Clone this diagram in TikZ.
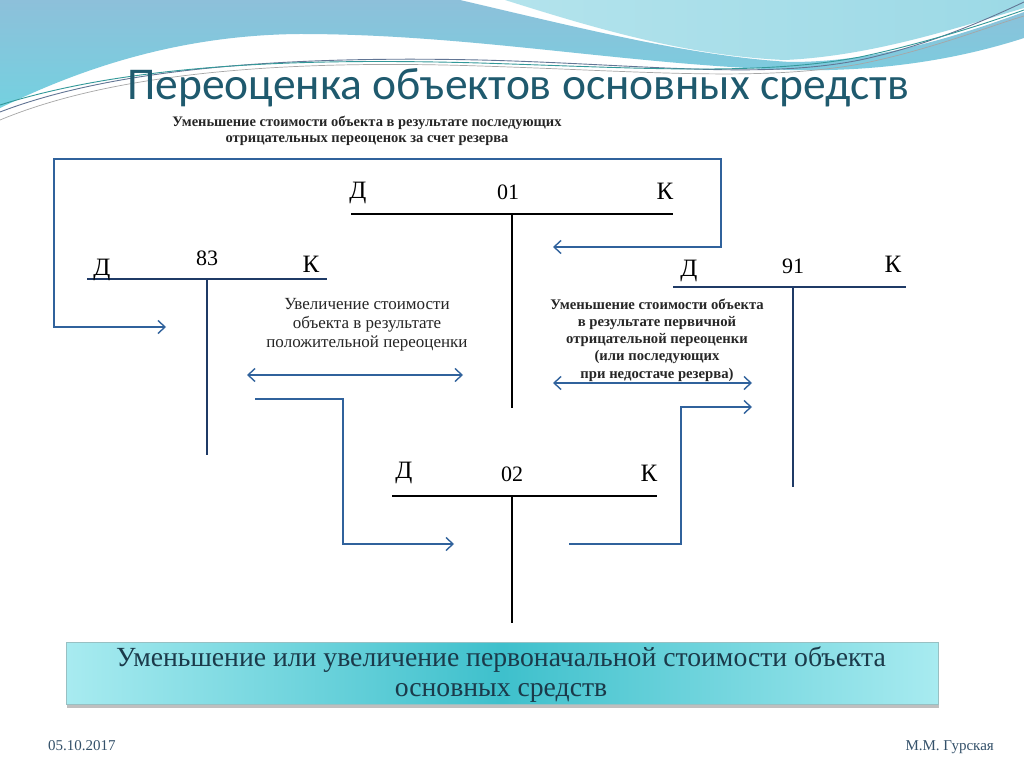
\documentclass[tikz,border=0pt]{standalone}
\usepackage{fontspec}
\setmainfont{Liberation Serif}
\newfontfamily\headfont{Carlito}
\usetikzlibrary{shapes}
\usetikzlibrary{arrows.meta}
\usetikzlibrary{shadows}

\definecolor{waveblue}{HTML}{8DC0DA}
\definecolor{wavecyan}{HTML}{74D1E0}
\definecolor{wavelight}{HTML}{B3E3EC}
\definecolor{wavepale}{HTML}{9CD9E6}
\definecolor{titleteal}{HTML}{1F5A6E}
\definecolor{linkblue}{HTML}{30629C}
\definecolor{accnavy}{HTML}{1F3A66}
\definecolor{boxedge}{HTML}{A8EBF0}
\definecolor{boxmid}{HTML}{3EC0CC}
\definecolor{boxtext}{HTML}{1B3A4A}
\definecolor{foot}{HTML}{34516A}

\begin{document}
\begin{tikzpicture}[x=1pt,y=-1pt,>={Straight Barb[length=7pt,width=13pt]}]
	\tikzstyle{every node}=[inner sep=0pt]
	\tikzstyle{conn}=[draw=linkblue,line width=1.4pt]
	\tikzstyle{blackacc}=[line width=2.8pt]
	\tikzstyle{navyacc}=[draw=accnavy,line width=2.2pt]
	\tikzstyle{side}=[anchor=base,font=\fontsize{25}{25}\selectfont]
	\tikzstyle{num}=[anchor=base,font=\fontsize{22}{22}\selectfont]
	\tikzstyle{note}=[align=center,text=black!85]
	
	\useasboundingbox (0,0) rectangle (1024,767);
	\fill[white] (0,0) rectangle (1024,767);
	
	% waves on top
	\shade[top color=waveblue,bottom color=wavecyan] (0,0) -- (460,0) .. controls (580,28) and (690,56) .. (790,62) .. controls (880,62) and (960,35) .. (1024,12) -- (1024,38) .. controls (950,62) and (870,72) .. (790,70) .. controls (620,64) and (470,34) .. (300,34) .. controls (170,35) and (70,74) .. (0,108) -- cycle;
	\shade[left color=wavelight,right color=wavepale] (505,0) -- (1024,0) -- (1024,8) .. controls (950,30) and (870,56) .. (785,60) .. controls (690,56) and (600,30) .. (505,0) -- cycle;
	\draw[accnavy!70,line width=0.9pt] (0,112) .. controls (120,66) and (300,56) .. (480,60) .. controls (640,64) and (760,80) .. (860,60) .. controls (930,45) and (990,18) .. (1024,2);
	\draw[teal!80,line width=0.9pt] (0,105) .. controls (130,64) and (300,58) .. (480,63) .. controls (640,68) and (760,76) .. (860,57) .. controls (930,42) and (990,22) .. (1024,10);
	\draw[gray!70,line width=0.7pt] (0,120) .. controls (120,70) and (300,60) .. (480,66) .. controls (640,71) and (760,82) .. (860,64) .. controls (930,50) and (990,26) .. (1024,16);
	
	\node[anchor=base,text=titleteal,font=\headfont\fontsize{45.5}{46}\selectfont] (title) at (518,100) {Переоценка объектов основных средств};
	
	% account 01
	\coordinate (a01l) at (351,214);
	\coordinate (a01r) at (673,214);
	\coordinate (a01t) at (512,214);
	\coordinate (a01b) at (512,408);
	\draw[blackacc] (a01l) -- (a01r);
	\draw[blackacc] (a01t) -- (a01b);
	\node[side] (d01) at (358,199) {Д};
	\node[num] (n01) at (508,200) {01};
	\node[side] (k01) at (665,200) {К};
	
	% account 83
	\coordinate (a83l) at (87,279);
	\coordinate (a83r) at (327,279);
	\coordinate (a83t) at (207,279);
	\coordinate (a83b) at (207,455);
	\draw[navyacc] (a83l) -- (a83r);
	\draw[navyacc] (a83t) -- (a83b);
	\node[side] (d83) at (102,275) {Д};
	\node[num] (n83) at (207,265) {83};
	\node[side] (k83) at (311,272) {К};
	
	% account 91
	\coordinate (a91l) at (673,287);
	\coordinate (a91r) at (906,287);
	\coordinate (a91t) at (793,287);
	\coordinate (a91b) at (793,487);
	\draw[navyacc] (a91l) -- (a91r);
	\draw[navyacc] (a91t) -- (a91b);
	\node[side] (d91) at (689,276) {Д};
	\node[num] (n91) at (793,273) {91};
	\node[side] (k91) at (893,272) {К};
	
	% account 02
	\coordinate (a02l) at (392,496);
	\coordinate (a02r) at (657,496);
	\coordinate (a02t) at (512,496);
	\coordinate (a02b) at (512,623);
	\draw[blackacc] (a02l) -- (a02r);
	\draw[blackacc] (a02t) -- (a02b);
	\node[side] (d02) at (404,478) {Д};
	\node[num] (n02) at (512,481) {02};
	\node[side] (k02) at (649,481) {К};
	
	% connectors
	\coordinate (loopa) at (553,247);
	\coordinate (loopb) at (721,247);
	\coordinate (loopc) at (721,159);
	\coordinate (loopd) at (54,159);
	\coordinate (loope) at (54,327);
	\coordinate (loopf) at (166,327);
	\draw[conn,<->] (loopa) -- (loopb) -- (loopc) -- (loopd) -- (loope) -- (loopf);
	
	\coordinate (upl) at (247,375);
	\coordinate (upr) at (463,375);
	\draw[conn,<->] (upl) -- (upr);
	
	\coordinate (downl) at (553,383);
	\coordinate (downr) at (752,383);
	\draw[conn,<->] (downl) -- (downr);
	
	\coordinate (ina) at (255,399);
	\coordinate (inb) at (343,399);
	\coordinate (inc) at (343,544);
	\coordinate (ind) at (454,544);
	\draw[conn,->] (ina) -- (inb) -- (inc) -- (ind);
	
	\coordinate (outa) at (569,544);
	\coordinate (outb) at (681,544);
	\coordinate (outc) at (681,407);
	\coordinate (outd) at (752,407);
	\draw[conn,->] (outa) -- (outb) -- (outc) -- (outd);
	
	% notes
	\node[note,font=\fontsize{14.5}{16}\selectfont\bfseries] (notetop) at (367,131) {Уменьшение стоимости объекта в результате последующих\\отрицательных переоценок за счет резерва};
	\node[note,font=\fontsize{17}{19}\selectfont] (noteup) at (367,325) {Увеличение стоимости\\объекта в результате\\положительной переоценки};
	\node[note,font=\fontsize{14.7}{17.3}\selectfont\bfseries] (notedown) at (657,340) {Уменьшение стоимости объекта\\в результате первичной\\отрицательной переоценки\\(или последующих\\при недостаче резерва)};
	
	% bottom box
	\node[draw=boxedge!60!gray,line width=0.6pt,left color=boxedge,right color=boxedge,middle color=boxmid,
		minimum width=872pt,minimum height=62pt,
		drop shadow={shadow xshift=1pt,shadow yshift=-4pt,fill=black!50,opacity=0.5}] (result) at (502,673) {};
	\node[align=center,text=boxtext,font=\fontsize{27.7}{30}\selectfont] (resulttext) at (501,675) {Уменьшение или увеличение первоначальной стоимости объекта\\основных средств};
	
	% footer
	\node[anchor=base west,text=foot,font=\fontsize{15}{15}\selectfont] (date) at (48,750) {05.10.2017};
	\node[anchor=base east,text=foot,font=\fontsize{15}{15}\selectfont] (author) at (994,750) {М.М. Гурская};
\end{tikzpicture}
\end{document}
